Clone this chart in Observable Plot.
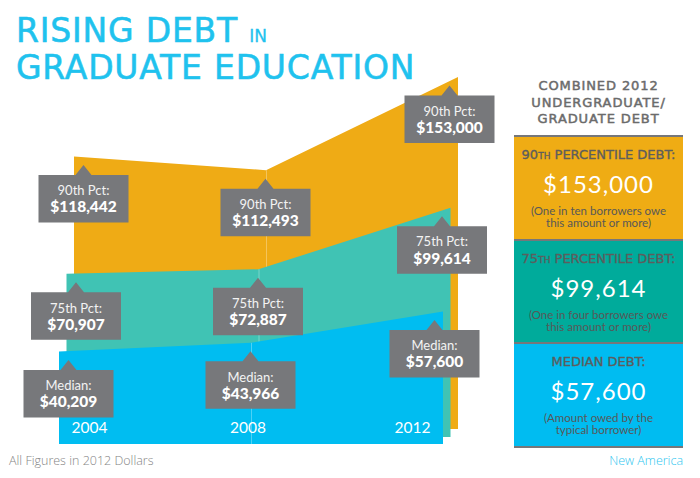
<!DOCTYPE html>
<html>
<head>
<meta charset="utf-8">
<script src="https://cdn.jsdelivr.net/npm/d3@7"></script>
<script src="https://cdn.jsdelivr.net/npm/@observablehq/plot@0.6"></script>
<style>
  body { margin: 0; background: #fff; }
  #wrap { position: relative; width: 700px; height: 478px; overflow: hidden; font-family: Lato, sans-serif; }
  #chart { position: absolute; left: 0; top: 0; }
  .title { position: absolute; left: 16px; top: 14.5px; font-family: "DejaVu Sans"; font-size: 33px; line-height: 32.5px; letter-spacing: 0.8px; color: #1fc2ee; -webkit-text-stroke: 0.6px #1fc2ee; white-space: nowrap; }
  .title .small { font-size: 17px; letter-spacing: 0; -webkit-text-stroke: 0.3px #1fc2ee; }
  #panelHead { position: absolute; left: 514px; width: 169px; top: 78px; text-align: center; font-family: "DejaVu Sans"; font-size: 13px; line-height: 16.5px; letter-spacing: 0.9px; color: #6b6b6b; -webkit-text-stroke: 0.5px #6b6b6b; }
  .box { position: absolute; left: 514px; width: 169px; box-sizing: border-box; border-top: 2px solid #76777a; text-align: center; }
  .box.last { border-bottom: 2px solid #76777a; }
  .box .head { position: absolute; left: 0; right: 0; top: 10px; line-height: 16px; font-family: "DejaVu Sans"; font-size: 13px; color: #5d5d5d; -webkit-text-stroke: 0.35px #5d5d5d; white-space: nowrap; }
  .box .head .sc { font-size: 9px; }
  .box .val { position: absolute; left: 0; right: 0; top: 32px; line-height: 30px; font-family: Lato; font-size: 24px; letter-spacing: 1px; color: #fff; }
  .box .note { position: absolute; left: 0; right: 0; top: 68px; line-height: 12px; font-family: Lato; font-size: 11.5px; color: #585858; }
  .foot { position: absolute; top: 453px; line-height: 16px; font-family: "Open Sans"; font-weight: 300; font-size: 12.5px; white-space: nowrap; }
</style>
</head>
<body>
<div id="wrap">
  <div id="chart"></div>
  <div class="title">RISING DEBT <span class="small">IN</span><br>GRADUATE EDUCATION</div>
  <div id="panelHead"></div>
  <div id="panel"></div>
  <div class="foot" style="left:9px;color:#858585">All Figures in 2012 Dollars</div>
  <div class="foot" style="right:17px;color:#2ec6ef">New America</div>
</div>
<script>
// Graduate borrowing by percentile, in 2012 dollars
const years = [2004, 2008, 2012];
const p90 = [118442, 112493, 153000];
const p75 = [70907, 72887, 99614];
const median = [40209, 43966, 57600];
const seriesLabels = ["90th Pct:", "75th Pct:", "Median:"];
const seriesColors = ["#efab15", "#40c3b4", "#00bdf1"];

// Summary panel text
const panelTitle = ["COMBINED 2012", "UNDERGRADUATE/", "GRADUATE DEBT"];
const panelHeads = [["90", "TH", " PERCENTILE DEBT:"], ["75", "TH", " PERCENTILE DEBT:"], ["MEDIAN DEBT:", "", ""]];
const panelNotes = [
  ["(One in ten borrowers owe", "this amount or more)"],
  ["(One in four borrowers owe", "this amount or more)"],
  ["(Amount owed by the", "typical borrower)"]
];
const panelColors = ["#efac14", "#00ab9b", "#00bcf1"];

const fmt = d3.format("$,");
const series = [p90, p75, median].map((vals, i) =>
  years.map((year, j) => ({year, value: vals[j], label: seriesLabels[i]}))
);

// Each layer sits a little to the left of and below the one behind it
const depthX = [0, -7.5, -15];
const depthY = [0, 8, 15];
// Callout pointers lean inward at both ends of the chart
const pointerX = [9, -1, -9];

// Grey label box with a small pointer on top; the tip is at the origin
const callout = {
  draw(ctx) {
    ctx.moveTo(0, 0);
    ctx.lineTo(8, 10);
    ctx.lineTo(45, 10);
    ctx.lineTo(45, 57.5);
    ctx.lineTo(-45, 57.5);
    ctx.lineTo(-45, 10);
    ctx.lineTo(-8, 10);
    ctx.closePath();
  }
};

const marks = [];
series.forEach((rows, i) => {
  marks.push(Plot.areaY(rows, {x: "year", y: "value", fill: seriesColors[i], dx: depthX[i], dy: depthY[i]}));
  marks.push(Plot.ruleX(rows.filter(d => d.year === years[1]), {
    x: "year", y1: 0, y2: "value", stroke: "#fff", strokeOpacity: 0.3, dx: depthX[i], dy: depthY[i]
  }));
});

// Year labels along the bottom of the front layer
const front = series[2];
const yearAnchors = ["start", "middle", "end"];
const yearNudge = [12, -3.5, -13];
front.forEach((row, j) => {
  marks.push(Plot.text([row], {
    x: "year", y: () => 0, text: d => String(d.year),
    textAnchor: yearAnchors[j], dx: depthX[2] + yearNudge[j], dy: depthY[2] - 16,
    fill: "#fff", fontSize: 15.5, fontFamily: "Lato"
  }));
});

// Value callouts
series.forEach((rows, i) => {
  rows.forEach((row, j) => {
    const dx = depthX[i] + pointerX[j];
    const dy = depthY[i] + 8;
    marks.push(Plot.dot([row], {x: "year", y: "value", symbol: callout, fill: "#77787b", dx, dy}));
    marks.push(Plot.text([row], {x: "year", y: "value", text: "label", dx, dy: dy + 26, fill: "#f3f3f3", fontSize: 13, fontFamily: "Lato"}));
    marks.push(Plot.text([row], {x: "year", y: "value", text: d => fmt(d.value), dx, dy: dy + 42.5, fill: "#fff", fontSize: 15.5, fontWeight: 900, fontFamily: "Lato"}));
  });
});

const chart = Plot.plot({
  width: 700,
  height: 478,
  margin: 0,
  x: {domain: [years[0], years[2]], range: [74, 458], axis: null},
  y: {domain: [0, d3.max(p90)], range: [429, 77], axis: null},
  marks
});
document.getElementById("chart").append(chart);

// Summary panel for the latest year
document.getElementById("panelHead").innerHTML = panelTitle.join("<br>");
const panel = document.getElementById("panel");
const latest = [p90, p75, median].map(v => v[v.length - 1]);
latest.forEach((v, i) => {
  const box = document.createElement("div");
  box.className = "box" + (i === latest.length - 1 ? " last" : "");
  box.style.top = (135 + i * 103.5) + "px";
  box.style.height = (i === latest.length - 1 ? 106 : 103.5) + "px";
  box.style.background = panelColors[i];
  const [a, b, c] = panelHeads[i];
  box.innerHTML =
    `<div class="head">${a}<span class="sc">${b}</span>${c}</div>` +
    `<div class="val">${fmt(v)}</div>` +
    `<div class="note">${panelNotes[i].join("<br>")}</div>`;
  panel.append(box);
});
</script>
</body>
</html>
